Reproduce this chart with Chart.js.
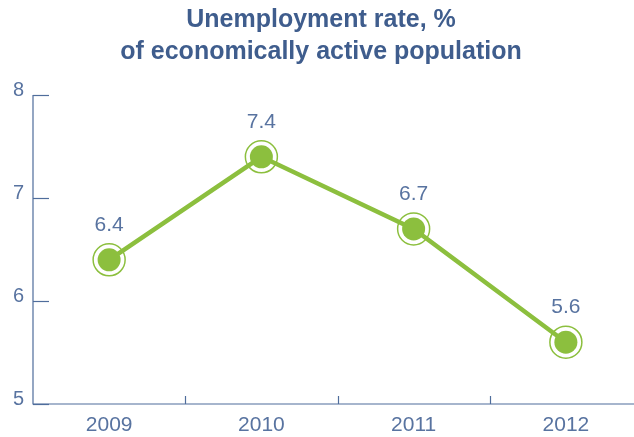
<!DOCTYPE html>
<html>
<head>
<meta charset="utf-8">
<script src="https://cdn.jsdelivr.net/npm/chart.js@4/dist/chart.umd.min.js"></script>
<style>
html,body{margin:0;padding:0;background:#fff;overflow:hidden;}
canvas{display:block;}
</style>
</head>
<body>
<canvas id="c" width="642" height="437"></canvas>
<script>
const categories = ['2009', '2010', '2011', '2012'];
const rateValues = [6.4, 7.4, 6.7, 5.6];
const yTicks = [5, 6, 7, 8];
const titleLines = ['Unemployment rate, %', 'of economically active population'];

const GREEN = '#8cbf3e';
const AXIS = '#4f6d9c';
const TEXT = '#5873a0';
const TITLE = '#3f5d8d';
const FONT = "'Liberation Sans', Arial, sans-serif";

const innerTicks = {
  id: 'innerTicks',
  afterDraw(chart) {
    const ctx = chart.ctx;
    const x = chart.scales.x, y = chart.scales.y;
    const area = chart.chartArea;
    ctx.save();
    ctx.strokeStyle = AXIS;
    ctx.lineWidth = 1.2;
    ctx.beginPath();
    ctx.moveTo(area.left, area.top);
    ctx.lineTo(area.left, area.bottom);
    ctx.lineTo(area.right, area.bottom);
    ctx.stroke();
    yTicks.forEach(v => {
      const py = Math.round(y.getPixelForValue(v)) + 0.5;
      ctx.beginPath();
      ctx.moveTo(area.left, py);
      ctx.lineTo(area.left + 16, py);
      ctx.stroke();
    });
    for (let i = 1; i < categories.length; i++) {
      const px = Math.round((x.getPixelForValue(i - 1) + x.getPixelForValue(i)) / 2) + 0.5;
      ctx.beginPath();
      ctx.moveTo(px, area.bottom);
      ctx.lineTo(px, area.bottom - 8);
      ctx.stroke();
    }
    ctx.restore();
  },
  afterDatasetsDraw(chart) {
    const ctx = chart.ctx;
    const meta = chart.getDatasetMeta(1);
    ctx.save();
    ctx.fillStyle = TEXT;
    ctx.font = "21px " + FONT;
    ctx.textAlign = 'center';
    ctx.textBaseline = 'middle';
    meta.data.forEach((pt, i) => {
      ctx.fillText(rateValues[i].toFixed(1), pt.x, pt.y - 35);
    });
    ctx.restore();
  }
};

new Chart(document.getElementById('c'), {
  type: 'line',
  data: {
    labels: categories,
    datasets: [
      {
        data: rateValues,
        showLine: false,
        pointRadius: 16,
        pointHoverRadius: 16,
        pointBackgroundColor: 'rgba(0,0,0,0)',
        pointBorderColor: GREEN,
        pointBorderWidth: 1.5,
        order: 2
      },
      {
        data: rateValues,
        borderColor: GREEN,
        borderWidth: 4.5,
        tension: 0,
        pointRadius: 11.5,
        pointHoverRadius: 11.5,
        pointBackgroundColor: GREEN,
        pointBorderColor: GREEN,
        pointBorderWidth: 0,
        order: 1
      }
    ]
  },
  options: {
    responsive: false,
    animation: false,
    layout: { padding: 0, autoPadding: false },
    plugins: {
      legend: { display: false },
      tooltip: { enabled: false },
      title: {
        display: true,
        text: titleLines,
        color: TITLE,
        font: { family: FONT, size: 25, weight: 'bold', lineHeight: 32 / 25 },
        padding: { top: 4, bottom: 27 }
      }
    },
    scales: {
      x: {
        offset: true,
        afterFit(scale) { scale.height = 33; scale.paddingLeft = 0; scale.paddingRight = 0; },
        grid: { display: false, drawTicks: false },
        border: { display: false },
        ticks: { color: TEXT, font: { family: FONT, size: 21 }, padding: 9 }
      },
      y: {
        min: 5, max: 8,
        afterFit(scale) { scale.width = 33; },
        afterBuildTicks(scale) { scale.ticks = yTicks.map(v => ({ value: v })); },
        grid: { display: false, drawTicks: false },
        border: { display: false },
        ticks: { color: TEXT, font: { family: FONT, size: 20 }, padding: 9, labelOffset: -5 }
      }
    }
  },
  plugins: [innerTicks]
});
</script>
</body>
</html>
